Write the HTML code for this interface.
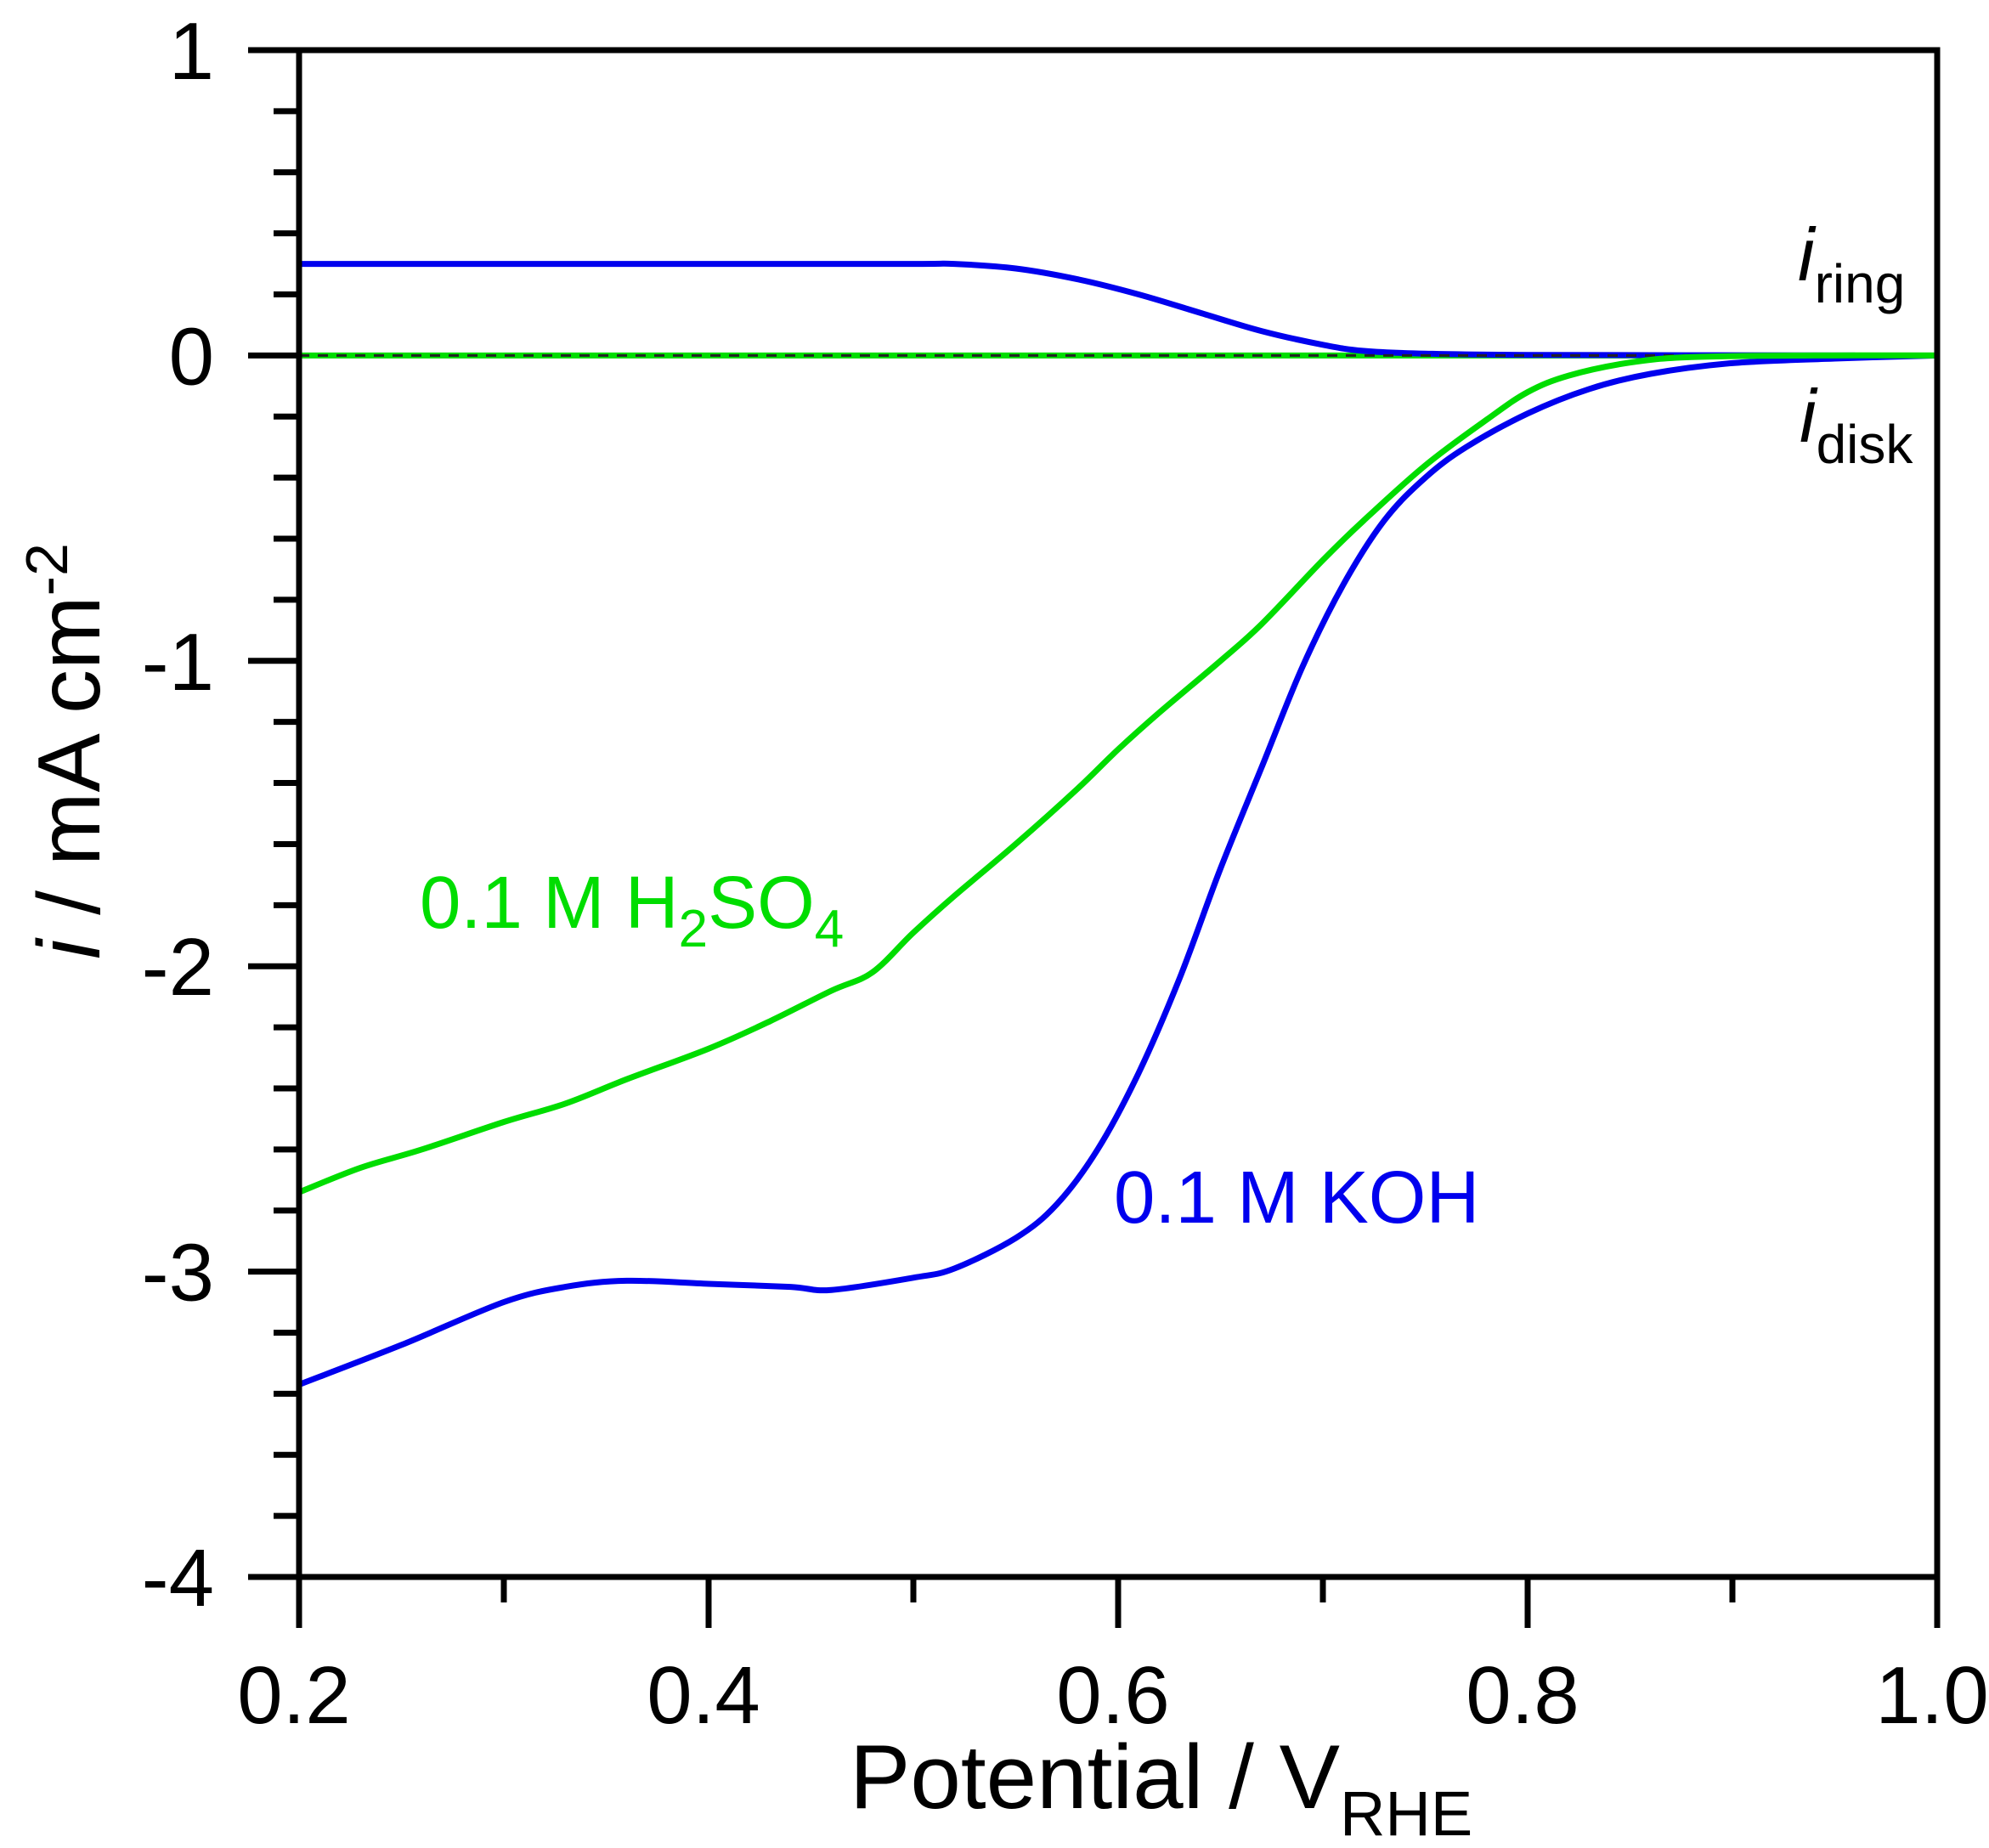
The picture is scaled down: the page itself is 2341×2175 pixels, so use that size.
<!DOCTYPE html>
<html><head><meta charset="utf-8"><style>
html,body{margin:0;padding:0;background:#fff;}
svg{display:block;font-family:"Liberation Sans",Arial,sans-serif;}
</style></head><body>
<svg id="chart" width="2341" height="2175" viewBox="0 0 2341 2175" xmlns="http://www.w3.org/2000/svg">
<g id="plot"></g>
<g id="axes"></g>
<text transform="translate(117,884) rotate(-90)" text-anchor="middle" font-size="104" fill="#000"><tspan font-style="italic">i</tspan> / mA cm<tspan dy="-38" font-size="70">-2</tspan></text>
<text x="1000" y="2128" font-size="107" fill="#000">Potential / V<tspan dy="32" font-size="74">RHE</tspan></text>
<text x="2116" y="330" font-size="88" fill="#000"><tspan font-style="italic">i</tspan><tspan dy="26" font-size="64">ring</tspan></text>
<text x="2118" y="520" font-size="88" fill="#000"><tspan font-style="italic">i</tspan><tspan dy="25" font-size="64">disk</tspan></text>
<text x="494" y="1092" font-size="87" fill="#00dd00">0.1 M H<tspan dy="22" font-size="62">2</tspan><tspan dy="-22">SO</tspan><tspan dy="22" font-size="62">4</tspan></text>
<text x="1311" y="1439" font-size="87" fill="#0000ee">0.1 M KOH</text>
</svg>
<script>
const NS="http://www.w3.org/2000/svg";
const xTickValues=[0.2,0.4,0.6,0.8,1.0];
const xTickLabels=["0.2","0.4","0.6","0.8","1.0"];
const yTickValues=[1,0,-1,-2,-3,-4];
const yTickLabels=["1","0","-1","-2","-3","-4"];
const kohDiskV=[0.20,0.25,0.30,0.33,0.36,0.40,0.44,0.46,0.50,0.52,0.55,0.57,0.59,0.61,0.63,0.65,0.67,0.69,0.71,0.73,0.75,0.77,0.80,0.83,0.86,0.90,0.95,1.00];
const kohDiskI=[-3.37,-3.24,-3.10,-3.05,-3.03,-3.04,-3.05,-3.06,-3.02,-2.99,-2.89,-2.78,-2.60,-2.35,-2.04,-1.68,-1.35,-1.02,-0.75,-0.54,-0.40,-0.30,-0.19,-0.11,-0.06,-0.025,-0.01,0];
const h2so4DiskV=[0.20,0.23,0.26,0.30,0.33,0.36,0.40,0.43,0.46,0.48,0.50,0.52,0.55,0.58,0.60,0.62,0.65,0.67,0.70,0.72,0.75,0.78,0.80,0.82,0.85,0.88,0.94,1.00];
const h2so4DiskI=[-2.74,-2.66,-2.60,-2.51,-2.45,-2.37,-2.27,-2.18,-2.08,-2.02,-1.89,-1.77,-1.60,-1.42,-1.29,-1.17,-1.00,-0.88,-0.67,-0.54,-0.36,-0.21,-0.12,-0.066,-0.023,-0.005,0,0];
const kohRingV=[0.20,0.30,0.40,0.50,0.52,0.55,0.58,0.61,0.64,0.67,0.70,0.72,0.75,0.80,0.96];
const kohRingI=[0.30,0.30,0.30,0.30,0.30,0.285,0.25,0.20,0.14,0.08,0.035,0.015,0.006,0.002,0.0];
const h2so4RingV=[0.20,1.00];
const h2so4RingI=[0.0,0.0];

const X0=352,X1=2280,Y1=59,Y0=1856;
function sx(v){return X0+(v-0.2)/0.8*(X1-X0);}
function sy(i){return Y1+(1-i)/5*(Y0-Y1);}
const plot=document.getElementById('plot');
const axes=document.getElementById('axes');
function mk(tag,attrs,parent){const e=document.createElementNS(NS,tag);for(const k in attrs)e.setAttribute(k,attrs[k]);parent.appendChild(e);return e;}
function smoothPath(pts){
  let d='M'+pts[0][0].toFixed(1)+' '+pts[0][1].toFixed(1);
  for(let k=0;k<pts.length-1;k++){
    const p0=pts[k-1]||pts[k],p1=pts[k],p2=pts[k+1],p3=pts[k+2]||pts[k+1];
    const c1x=p1[0]+(p2[0]-p0[0])/6,c1y=p1[1]+(p2[1]-p0[1])/6;
    const c2x=p2[0]-(p3[0]-p1[0])/6,c2y=p2[1]-(p3[1]-p1[1])/6;
    d+=' C'+c1x.toFixed(1)+' '+c1y.toFixed(1)+' '+c2x.toFixed(1)+' '+c2y.toFixed(1)+' '+p2[0].toFixed(1)+' '+p2[1].toFixed(1);
  }
  return d;
}
function series(vs,is,color,name){
  const pts=vs.map((v,k)=>[sx(v),sy(is[k])]);
  const p=mk('path',{d:smoothPath(pts),fill:'none',stroke:color,'stroke-width':7,'stroke-linejoin':'round'},plot);
  
  
}
series(h2so4RingV,h2so4RingI,'#00dd00','h2so4-ring-line');
series(kohRingV,kohRingI,'#0000ee','koh-ring-line');
const z=mk('line',{x1:sx(0.2),x2:sx(1.0),y1:sy(0),y2:sy(0),stroke:'#222','stroke-width':3,'stroke-dasharray':'12 10'},plot);


series(kohDiskV,kohDiskI,'#0000ee','koh-disk-line');
series(h2so4DiskV,h2so4DiskI,'#00dd00','h2so4-disk-line');

const frame=mk('rect',{x:X0,y:Y1,width:X1-X0,height:Y0-Y1,fill:'none',stroke:'#000','stroke-width':7},axes);


for(let t=-4;t<=1.0001;t+=0.2){
  const major=Math.abs(t-Math.round(t))<1e-6;
  const l=mk('line',{x1:X0-(major?60:30),x2:X0,y1:sy(t),y2:sy(t),stroke:'#000','stroke-width':7},axes);
  
  
}
yTickValues.forEach((v,k)=>{
  const t=mk('text',{x:252,y:sy(v)+34,'text-anchor':'end','font-size':96,fill:'#000'},axes);
  t.textContent=yTickLabels[k];
  
  
});
for(let k=0;k<=8;k++){
  const v=0.2+k*0.1;const major=k%2===0;
  const l=mk('line',{x1:sx(v),x2:sx(v),y1:Y0,y2:Y0+(major?60:30),stroke:'#000','stroke-width':7},axes);
  
  
}
xTickValues.forEach((v,k)=>{
  const t=mk('text',{x:sx(v)-6,y:2028,'text-anchor':'middle','font-size':96,fill:'#000'},axes);
  t.textContent=xTickLabels[k];
  
  
});
</script>
</body></html>
